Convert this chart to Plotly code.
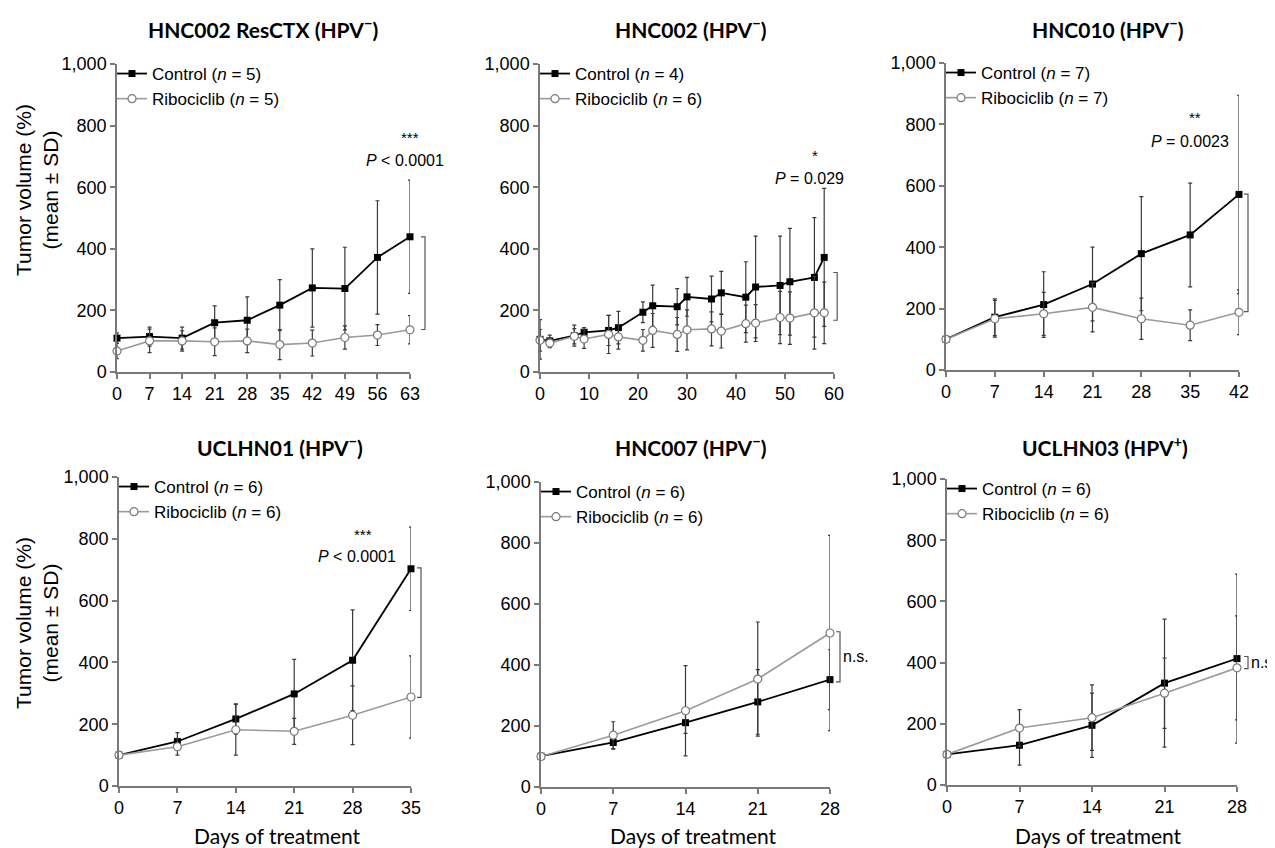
import plotly.graph_objects as go

# ---------------- data ----------------
titles = ["HNC002 ResCTX (HPV<sup>−</sup>)", "HNC002 (HPV<sup>−</sup>)", "HNC010 (HPV<sup>−</sup>)",
          "UCLHN01 (HPV<sup>−</sup>)", "HNC007 (HPV<sup>−</sup>)", "UCLHN03 (HPV<sup>+</sup>)"]
n_ctrl = [5, 4, 7, 6, 6, 6]
n_ribo = [5, 6, 7, 6, 6, 6]

p1_days = [0, 7, 14, 21, 28, 35, 42, 49, 56, 63]
p1_ctrl = [110, 115, 110, 160, 168, 217, 273, 271, 372, 439]
p1_ctrl_sd = [17, 31, 36, 55, 76, 83, 127, 134, 184, 184]
p1_ribo = [68, 101, 101, 98, 101, 89, 94, 112, 120, 137]
p1_ribo_sd = [25, 38, 33, 45, 38, 49, 42, 38, 34, 46]

p2_days = [0, 2, 7, 9, 14, 16, 21, 23, 28, 30, 35, 37, 42, 44, 49, 51, 56, 58]
p2_ctrl = [106, 101, 118, 129, 135, 144, 194, 215, 212, 244, 237, 257, 243, 276, 281, 293, 307, 372]
p2_ctrl_sd = [64, 19, 34, 15, 49, 53, 34, 67, 59, 63, 74, 70, 115, 165, 160, 173, 194, 224]
p2_ribo = [103, 94, 116, 107, 122, 114, 103, 135, 122, 137, 140, 133, 157, 159, 177, 175, 192, 192]
p2_ribo_sd = [35, 15, 25, 30, 62, 40, 35, 55, 55, 65, 55, 55, 60, 60, 85, 85, 118, 100]

p3_days = [0, 7, 14, 21, 28, 35, 42]
p3_ctrl = [100, 172, 213, 280, 379, 440, 572]
p3_ctrl_sd = [0, 60, 107, 120, 186, 169, 323]
p3_ribo = [100, 167, 183, 204, 167, 146, 188]
p3_ribo_sd = [0, 60, 70, 80, 67, 50, 73]

p4_days = [0, 7, 14, 21, 28, 35]
p4_ctrl = [100, 144, 217, 298, 407, 703]
p4_ctrl_sd = [0, 29, 49, 112, 163, 135]
p4_ribo = [100, 127, 182, 177, 229, 288]
p4_ribo_sd = [0, 27, 82, 42, 95, 133]

p5_days = [0, 7, 14, 21, 28]
p5_ctrl = [101, 146, 211, 279, 352]
p5_ctrl_sd = [0, 22, 35, 106, 98]
p5_ribo = [100, 170, 250, 354, 505]
p5_ribo_sd = [0, 44, 148, 187, 320]

p6_days = [0, 7, 14, 21, 28]
p6_ctrl = [100, 130, 195, 333, 413]
p6_ctrl_sd = [0, 65, 105, 209, 276]
p6_ribo = [100, 186, 220, 300, 383]
p6_ribo_sd = [0, 60, 107, 115, 170]

x_ticks = [[0, 7, 14, 21, 28, 35, 42, 49, 56, 63], [0, 10, 20, 30, 40, 50, 60],
           [0, 7, 14, 21, 28, 35, 42], [0, 7, 14, 21, 28, 35],
           [0, 7, 14, 21, 28], [0, 7, 14, 21, 28]]
x_max = [63, 60, 42, 35, 28, 28]
y_ticks = [0, 200, 400, 600, 800, 1000]

sig_stars = ["***", "*", "**", "***", "", ""]
sig_p = ["<i>P</i> &lt; 0.0001", "<i>P</i> = 0.029", "<i>P</i> = 0.0023", "<i>P</i> &lt; 0.0001", "n.s.", "n.s."]
bracket_top = [439, 323, 573, 706, 509, 420]
bracket_bot = [138, 168, 190, 287, 345, 380]

panels = [
    (p1_days, p1_ctrl, p1_ctrl_sd, p1_ribo, p1_ribo_sd),
    (p2_days, p2_ctrl, p2_ctrl_sd, p2_ribo, p2_ribo_sd),
    (p3_days, p3_ctrl, p3_ctrl_sd, p3_ribo, p3_ribo_sd),
    (p4_days, p4_ctrl, p4_ctrl_sd, p4_ribo, p4_ribo_sd),
    (p5_days, p5_ctrl, p5_ctrl_sd, p5_ribo, p5_ribo_sd),
    (p6_days, p6_ctrl, p6_ctrl_sd, p6_ribo, p6_ribo_sd),
]

# ---------------- layout (pixel boxes in window coordinates) ----------------
OFF = 8                      # page body margin
W, H = 1275 - OFF, 848 - OFF
boxes = [(117, 410, 64, 372), (540, 834, 64, 372), (946, 1239, 63, 370),
         (119, 411, 477, 786), (541, 830, 482, 787), (947, 1237, 479, 785)]
title_x = [263, 690, 1107, 280, 690, 1105]
star_pos = [(63, 760), (56.1, 704), (35.7, 821), (29.3, 813), None, None]
p_pos = [(61.9, 688), (55.1, 628), (35.0, 745), (28.5, 743), (29.3, 427), (29.45, 400)]
bracket_dx = [15, 13, 9, 10, 10, 11]

ARIAL = "Liberation Sans, Arial, sans-serif"
CAL = "Lato, Open Sans, sans-serif"
AXC = "#7a7a7a"
ERRC = "#3a3a3a"

fig = go.Figure()
layout = dict(width=W, height=H, margin=dict(l=0, r=0, t=0, b=0, autoexpand=False),
              paper_bgcolor="white", plot_bgcolor="white", showlegend=True)
annotations = []
shapes = []


def px(x):
    return (x - OFF) / W


def py(y):
    return 1 - (y - OFF) / H


for i, (days, ctrl, csd, ribo, rsd) in enumerate(panels):
    k = "" if i == 0 else str(i + 1)
    xa, ya = "x" + k, "y" + k
    lg = "legend" + k
    x0, x1, y0, y1 = boxes[i]
    layout["xaxis" + k] = dict(domain=[px(x0), px(x1)], anchor=ya, range=[0, x_max[i]],
                               tickvals=x_ticks[i], ticks="outside", ticklen=5, tickwidth=1.5,
                               tickcolor=AXC, showline=True, linecolor=AXC, linewidth=1.5,
                               showgrid=False, zeroline=False, automargin=False,
                               tickfont=dict(family=ARIAL, size=18, color="black"))
    layout["yaxis" + k] = dict(domain=[py(y1), py(y0)], anchor=xa, range=[0, 1000],
                               tickvals=y_ticks, tickformat=",", ticks="outside", ticklen=5,
                               tickwidth=1.5, tickcolor=AXC, showline=True, linecolor=AXC,
                               linewidth=1.5, showgrid=False, zeroline=False, automargin=False,
                               tickfont=dict(family=ARIAL, size=18, color="black"))
    layout[lg] = dict(x=px(x0 - 5), y=py(y0 - 8), xanchor="left", yanchor="top",
                      bgcolor="rgba(0,0,0,0)", font=dict(family=ARIAL, size=17, color="black"),
                      itemwidth=30, tracegroupgap=0, traceorder="normal")

    fig.add_trace(go.Scatter(x=days, y=ctrl, mode="lines+markers",
                             name=f"Control (<i>n</i> = {n_ctrl[i]})",
                             line=dict(color="black", width=1.8),
                             marker=dict(symbol="square", size=7, color="black"),
                             error_y=dict(type="data", array=csd, visible=True, color=ERRC,
                                          thickness=1.2, width=2),
                             xaxis=xa, yaxis=ya, legend=lg, cliponaxis=False))
    fig.add_trace(go.Scatter(x=days, y=ribo, mode="lines+markers",
                             name=f"Ribociclib (<i>n</i> = {n_ribo[i]})",
                             line=dict(color="#9a9a9a", width=1.6),
                             marker=dict(symbol="circle", size=8, color="white",
                                         line=dict(color="#7a7a7a", width=1.2)),
                             error_y=dict(type="data", array=rsd, visible=True, color=ERRC,
                                          thickness=1.2, width=2),
                             xaxis=xa, yaxis=ya, legend=lg, cliponaxis=False))

    # titles
    annotations.append(dict(text=f"<b>{titles[i]}</b>", x=px(title_x[i]),
                            y=py(28 if i < 3 else 446), xref="paper", yref="paper",
                            showarrow=False, xanchor="center", yanchor="middle",
                            font=dict(family=CAL, size=21, color="black")))
    # significance
    if star_pos[i]:
        annotations.append(dict(text=sig_stars[i], x=star_pos[i][0], y=star_pos[i][1],
                                xref=xa, yref=ya, showarrow=False, xanchor="center",
                                yanchor="middle", font=dict(family=ARIAL, size=15, color="black")))
    # bracket position (pixel offset from last time point)
    last_px = x0 + days[-1] / x_max[i] * (x1 - x0)
    bx = last_px + bracket_dx[i]
    if i < 4:
        annotations.append(dict(text=sig_p[i], x=p_pos[i][0], y=p_pos[i][1], xref=xa, yref=ya,
                                showarrow=False, xanchor="center", yanchor="middle",
                                font=dict(family=ARIAL, size=16, color="black")))
    else:
        annotations.append(dict(text=sig_p[i], x=px(bx + 1), y=p_pos[i][1],
                                xref="paper", yref=ya,
                                showarrow=False, xanchor="left", yanchor="middle",
                                font=dict(family=ARIAL, size=16, color="black")))
    shapes.append(dict(type="path", xref="paper", yref=ya,
                       path=f"M{px(bx - 4)},{bracket_top[i]} L{px(bx)},{bracket_top[i]} "
                            f"L{px(bx)},{bracket_bot[i]} L{px(bx - 4)},{bracket_bot[i]}",
                       line=dict(color="#555555", width=1.2)))

# y-axis titles
for yc in [190, 623]:
    annotations.append(dict(text="Tumor volume (%)<br>(mean ± SD)", x=px(37), y=py(yc),
                            xref="paper", yref="paper", showarrow=False, textangle=-90,
                            xanchor="center", yanchor="middle",
                            font=dict(family=ARIAL, size=21, color="black")))
# x-axis titles
for xc in [277, 693, 1098]:
    annotations.append(dict(text="Days of treatment", x=px(xc), y=py(835), xref="paper",
                            yref="paper", showarrow=False, xanchor="center", yanchor="middle",
                            font=dict(family=CAL, size=21, color="black")))

layout["annotations"] = annotations
layout["shapes"] = shapes
fig.update_layout(**layout)
fig.write_html("out.html")
